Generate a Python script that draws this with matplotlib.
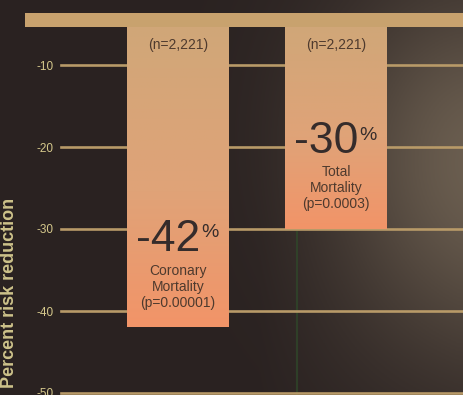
import numpy as np
import matplotlib
matplotlib.use("Agg")
import matplotlib.pyplot as plt

# data
categories = ["Coronary\nMortality\n(p=0.00001)", "Total\nMortality\n(p=0.0003)"]
reductions = [-42, -30]
pct_labels = ["-42", "-30"]
n_labels = ["(n=2,221)", "(n=2,221)"]
yticks = [-10, -20, -30, -40, -50]

W, H = 463, 395
plt.rcParams['font.family'] = ['Liberation Sans', 'DejaVu Sans']

fig = plt.figure(figsize=(W / 100, H / 100), dpi=100)
ax = fig.add_axes([0, 0, 1, 1])

# pixel helpers for layout (8.2 px per unit, -50 sits at y=393)
def py(y):
    return -50 + (393 - y) / 8.2

def px(x):
    return (x - 178) / 158

x = np.arange(len(reductions))
ylo, yhi = py(H), py(0)
xlo, xhi = px(0), px(W)
ax.set_xlim(xlo, xhi)
ax.set_ylim(ylo, yhi)

# dark backdrop, lighter toward the right side
gx, gy = np.meshgrid(np.linspace(0, W, 232), np.linspace(0, H, 198))
dark = np.array([42, 34, 33]) / 255
light = np.array([110, 97, 82]) / 255
w = 0.85 * np.exp(-((gx - 480) / 150) ** 2 - ((gy - 140) / 170) ** 2)
w = np.clip(w + 0.25 * np.clip((gx - 260) / 200, 0, 1) * np.exp(-((gy - 300) / 150) ** 2), 0, 1)
bg = dark[None, None, :] * (1 - w[..., None]) + light[None, None, :] * w[..., None]
ax.imshow(bg, extent=(xlo, xhi, ylo, yhi), aspect='auto', zorder=0, origin='upper')

# faint green streak from the photo
ax.plot([px(297), px(297)], [py(232), ylo], color='#2f4a2a', lw=1.5, alpha=0.7, zorder=1)

band_top, band_bot = py(13), py(27)

# grid lines
for t in yticks:
    ax.axhline(t, xmin=61 / W, xmax=1, color='#b89a68', lw=1.9, zorder=2)

# gradient bars, each from tan at the top to salmon at its end
grad_top = np.array([208, 167, 120]) / 255
grad_mid = np.array([224, 163, 120]) / 255
grad_bot = np.array([242, 148, 104]) / 255
t = np.linspace(0, 1, 256)[:, None]
grad = np.where(t < 0.55,
                grad_top[None, :] * (1 - t / 0.55) + grad_mid[None, :] * (t / 0.55),
                grad_mid[None, :] * (1 - (t - 0.55) / 0.45) + grad_bot[None, :] * ((t - 0.55) / 0.45))
grad = np.repeat(grad[:, None, :], 2, axis=1)
bars = ax.bar(x, np.array(reductions) - band_bot, bottom=band_bot, width=102 / 158,
              color='none', edgecolor='none', zorder=3)
for b, v in zip(bars, reductions):
    im = ax.imshow(grad, extent=(xlo, xhi, v, band_bot), aspect='auto',
                   zorder=3, origin='upper')
    im.set_clip_path(b)

# top band
ax.axhspan(band_bot, band_top, xmin=25 / W, xmax=1, color='#c8a26e', lw=0, zorder=4)

# text in bars
txt_col = '#4e3a2e'
num_col = '#352c2b'
num_y = [240, 142]
lab_y = [287, 188]
for i in range(len(reductions)):
    ax.text(x[i], py(45), n_labels[i], ha='center', va='center', fontsize=10,
            color=txt_col, zorder=5)
    ax.text(x[i] + 22 / 158, py(num_y[i]), pct_labels[i], ha='right', va='center',
            fontsize=32, color=num_col, zorder=5)
    ax.text(x[i] + 23 / 158, py(num_y[i] - 7), "%", ha='left', va='center',
            fontsize=14, color=num_col, zorder=5)
    ax.text(x[i], py(lab_y[i]), categories[i], ha='center', va='center', fontsize=10,
            color=txt_col, linespacing=1.2, zorder=5)

# axes, ticks
ax.set_xticks([])
ax.set_yticks(yticks)
ax.set_yticklabels([str(t) for t in yticks])
ax.tick_params(axis='y', length=0, pad=-54 * 0.72, labelsize=8.5, labelcolor='#d6c98c')
for lab in ax.get_yticklabels():
    lab.set_zorder(6)
for s in ax.spines.values():
    s.set_visible(False)

ax.set_ylabel("Percent risk reduction", fontsize=13, color='#cdc28a', fontweight='bold')
ax.yaxis.set_label_coords(18 / W, (H - 293) / H)

fig.savefig("out.png", dpi=100)
